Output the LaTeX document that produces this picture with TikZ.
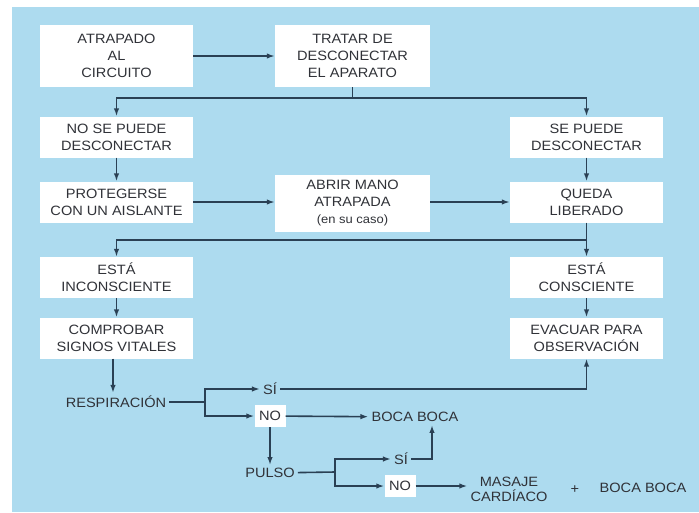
\documentclass[tikz,border=0pt]{standalone}
\usepackage{fontspec}
\setmainfont{Liberation Sans}[FakeStretch=1.08]
\usetikzlibrary{arrows.meta}
\usetikzlibrary{positioning}

\definecolor{fondo}{RGB}{173,219,239}
\definecolor{linea}{RGB}{42,64,84}
\definecolor{texto}{RGB}{48,50,56}

\tikzset{
  caja/.style={fill=white, text=texto, align=center, inner sep=2pt,
    minimum width=153pt, minimum height=41pt,
    font=\fontsize{13.5}{17}\selectfont},
  etiq/.style={text=texto, align=center, inner sep=3pt,
    font=\fontsize{13.5}{16}\selectfont},
  sino/.style={etiq, fill=white, minimum width=31pt, minimum height=22pt, inner sep=1pt},
  con/.style={draw=linea, line width=1.6pt},
  flecha/.style={con, -{Latex[length=8pt,width=5.5pt]}}
}

\begin{document}
\begin{tikzpicture}[x=1pt,y=-1pt]
  \fill[white] (0,0) rectangle (699,512);
  \fill[fondo] (12,7) rectangle (699,512);
  \useasboundingbox (0,0) rectangle (699,512);

  \node[caja, minimum height=62pt] (atrap) at (116.5,56) {ATRAPADO\\AL\\CIRCUITO};
  \node[caja, minimum width=155pt, minimum height=62pt] (tratar) at (352.5,56) {TRATAR DE\\DESCONECTAR\\EL APARATO};
  \node[caja] (nosep) at (116.5,137) {NO SE PUEDE\\DESCONECTAR};
  \node[caja] (sep) at (586.5,137) {SE PUEDE\\DESCONECTAR};
  \node[caja] (proteg) at (116.5,202) {PROTEGERSE\\CON UN AISLANTE};
  \node[caja, minimum width=155pt, minimum height=57pt] (abrir) at (352.5,203) {ABRIR MANO\\ATRAPADA\\{\fontsize{12}{15}\selectfont (en su caso)}};
  \node[caja] (queda) at (586.5,202) {QUEDA\\LIBERADO};
  \node[caja] (inconsc) at (116.5,277.5) {EST\'A\\INCONSCIENTE};
  \node[caja] (consc) at (586.5,277.5) {EST\'A\\CONSCIENTE};
  \node[caja] (comprob) at (116.5,338) {COMPROBAR\\SIGNOS VITALES};
  \node[caja] (evac) at (586.5,338) {EVACUAR PARA\\OBSERVACI\'ON};

  \node[etiq] (resp) at (116,402) {RESPIRACI\'ON};
  \node[etiq] (si1) at (270,389) {S\'I};
  \node[sino] (no1) at (270,416) {NO};
  \node[etiq] (boca1) at (415,417) {BOCA BOCA};
  \node[etiq] (pulso) at (270,473) {PULSO};
  \node[etiq] (si2) at (401,459) {S\'I};
  \node[sino] (no2) at (400,486) {NO};
  \node[etiq, font=\fontsize{13.5}{15}\selectfont] (masaje) at (509,489) {MASAJE\\CARD\'IACO};
  \node[etiq] (mas) at (575,490) {+};
  \node[etiq] (boca2) at (643,488) {BOCA BOCA};

  \coordinate (div1) at (352.5,98);
  \coordinate (div2) at (586.5,240);
  \coordinate (br1) at (205,402);
  \coordinate (br2) at (335,472);

  \draw[flecha] (atrap) -- (tratar);
  \draw[con] (tratar) -- (div1);
  \draw[flecha] (div1) -| (nosep);
  \draw[flecha] (div1) -| (sep);
  \draw[flecha] (nosep) -- (proteg);
  \draw[flecha] (sep) -- (queda);
  \draw[flecha] (proteg) -- (proteg -| abrir.west);
  \draw[flecha] (abrir.east |- queda) -- (queda);
  \draw[flecha] (queda) -- (consc);
  \draw[flecha] (div2) -| (inconsc);
  \draw[flecha] (inconsc) -- (comprob);
  \draw[flecha] (consc) -- (evac);
  \draw[flecha] (comprob.south -| 113,0) -- (resp.north -| 113,0);

  \draw[con] (resp) -- (br1);
  \draw[flecha] (br1) |- (si1);
  \draw[flecha] (br1) |- (no1);
  \draw[flecha] (si1) -| (evac);
  \draw[flecha] (no1) -- (boca1);
  \draw[flecha] (no1) -- (pulso);

  \draw[con] (pulso) -- (br2);
  \draw[flecha] (br2) |- (si2);
  \draw[flecha] (br2) |- (no2);
  \draw[flecha] (si2.east) -| ([xshift=17pt]boca1.south);
  \draw[flecha] (no2) -- (masaje.west |- no2);
\end{tikzpicture}
\end{document}
